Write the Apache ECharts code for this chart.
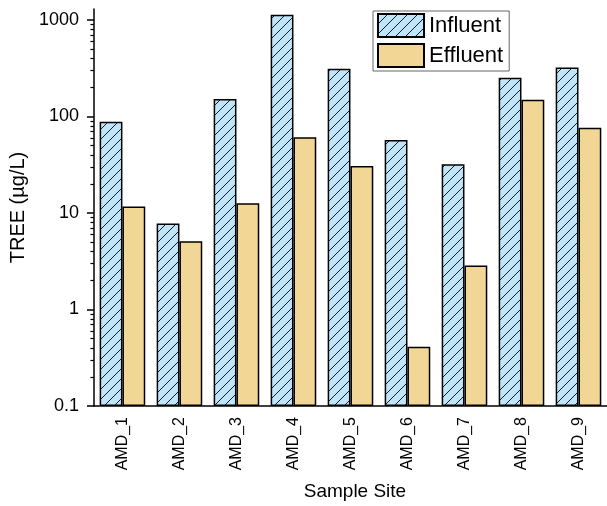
<!DOCTYPE html>
<html>
<head>
<meta charset="utf-8">
<script src="https://cdn.jsdelivr.net/npm/echarts@6/dist/echarts.min.js"></script>
<style>
  html, body { margin: 0; padding: 0; background: #fff; }
  #chart { width: 607px; height: 506px; }
</style>
</head>
<body>
<div id="chart"></div>
<script>
// Sample sites along the x axis
const sites = ['AMD_1', 'AMD_2', 'AMD_3', 'AMD_4', 'AMD_5', 'AMD_6', 'AMD_7', 'AMD_8', 'AMD_9'];
// Total rare earth elements, µg/L
const influent = [88, 7.8, 152, 1130, 312, 57, 32, 252, 322];
const effluent = [11.7, 5.1, 12.6, 61, 30.7, 0.41, 2.85, 149, 76.5];
// Log axis range and labelled decades
const yMin = 0.1;
const yMax = 1300;
const yTicks = [0.1, 1, 10, 100, 1000];

const minorTicks = [];
yTicks.forEach(function (d) {
  for (let k = 2; k <= 9; k++) {
    const v = +(k * d).toPrecision(3);
    if (v < yMax) minorTicks.push(v);
  }
});

// Diagonal hatch tile for the influent bars
function hatchTile() {
  const s = 10;
  const c = document.createElement('canvas');
  c.width = s; c.height = s;
  const g = c.getContext('2d');
  g.fillStyle = '#bfe5fa';
  g.fillRect(0, 0, s, s);
  g.strokeStyle = '#1c1c1c';
  g.lineWidth = 1;
  g.beginPath();
  g.moveTo(-2, s + 2); g.lineTo(s + 2, -2);
  g.moveTo(-2, 2); g.lineTo(2, -2);
  g.moveTo(s - 2, s + 2); g.lineTo(s + 2, s - 2);
  g.stroke();
  return c;
}

const font = 'Liberation Sans, Arial, sans-serif';
const chart = echarts.init(document.getElementById('chart'), null, { renderer: 'canvas' });

chart.setOption({
  animation: false,
  backgroundColor: '#fff',
  textStyle: { fontFamily: font, color: '#000' },
  grid: { left: 90, right: -2, top: 9, bottom: 95, containLabel: false },
  legend: {
    left: 373, top: 11,
    orient: 'vertical',
    itemWidth: 46, itemHeight: 23, itemGap: 5,
    padding: [2, 6, 3, 4],
    borderColor: '#666', borderWidth: 1,
    textStyle: { fontSize: 22, fontFamily: font, color: '#000' },
    data: [{ name: 'Influent', icon: 'rect' }, { name: 'Effluent', icon: 'rect' }]
  },
  xAxis: {
    type: 'category',
    data: sites,
    name: 'Sample Site',
    nameLocation: 'middle',
    nameGap: 76,
    nameTextStyle: { fontSize: 19, fontFamily: font, color: '#000', padding: [0, 0, 0, 9] },
    axisLine: { lineStyle: { color: '#000', width: 1.5 } },
    axisTick: { alignWithLabel: true, length: 6, lineStyle: { color: '#000', width: 1.5 } },
    axisLabel: { rotate: 90, fontSize: 16, margin: 11, color: '#000', fontFamily: font },
    splitLine: { show: false }
  },
  yAxis: [{
    type: 'log',
    logBase: 10,
    min: yMin, max: yMax,
    startValue: yMin,
    name: 'TREE (\u00b5g/L)',
    nameLocation: 'middle',
    nameGap: 56,
    nameTextStyle: { fontSize: 20, fontFamily: font, color: '#000' },
    axisLine: { show: true, lineStyle: { color: '#000', width: 1.5 } },
    axisTick: { show: true, length: 7, customValues: yTicks, lineStyle: { color: '#000', width: 1.5 } },
    axisLabel: { fontSize: 18, margin: 15, color: '#000', fontFamily: font, customValues: yTicks,
      formatter: function (v) { return String(+(+v).toPrecision(3)); } },
    splitLine: { show: false }
  }, {
    type: 'log',
    logBase: 10,
    min: yMin, max: yMax,
    position: 'left',
    axisLine: { show: false },
    axisTick: { show: true, length: 3.5, customValues: minorTicks, lineStyle: { color: '#000', width: 1.2 } },
    axisLabel: { show: false },
    splitLine: { show: false }
  }],
  series: [{
    name: 'Influent',
    type: 'bar',
    data: influent,
    barGap: '0%',
    barCategoryGap: '20%',
    itemStyle: { color: { image: hatchTile(), repeat: 'repeat' }, borderColor: '#000', borderWidth: 1.5 }
  }, {
    name: 'Effluent',
    type: 'bar',
    data: effluent,
    barGap: '0%',
    barCategoryGap: '20%',
    itemStyle: { color: '#f2d696', borderColor: '#000', borderWidth: 1.5 }
  }]
});
</script>
</body>
</html>
